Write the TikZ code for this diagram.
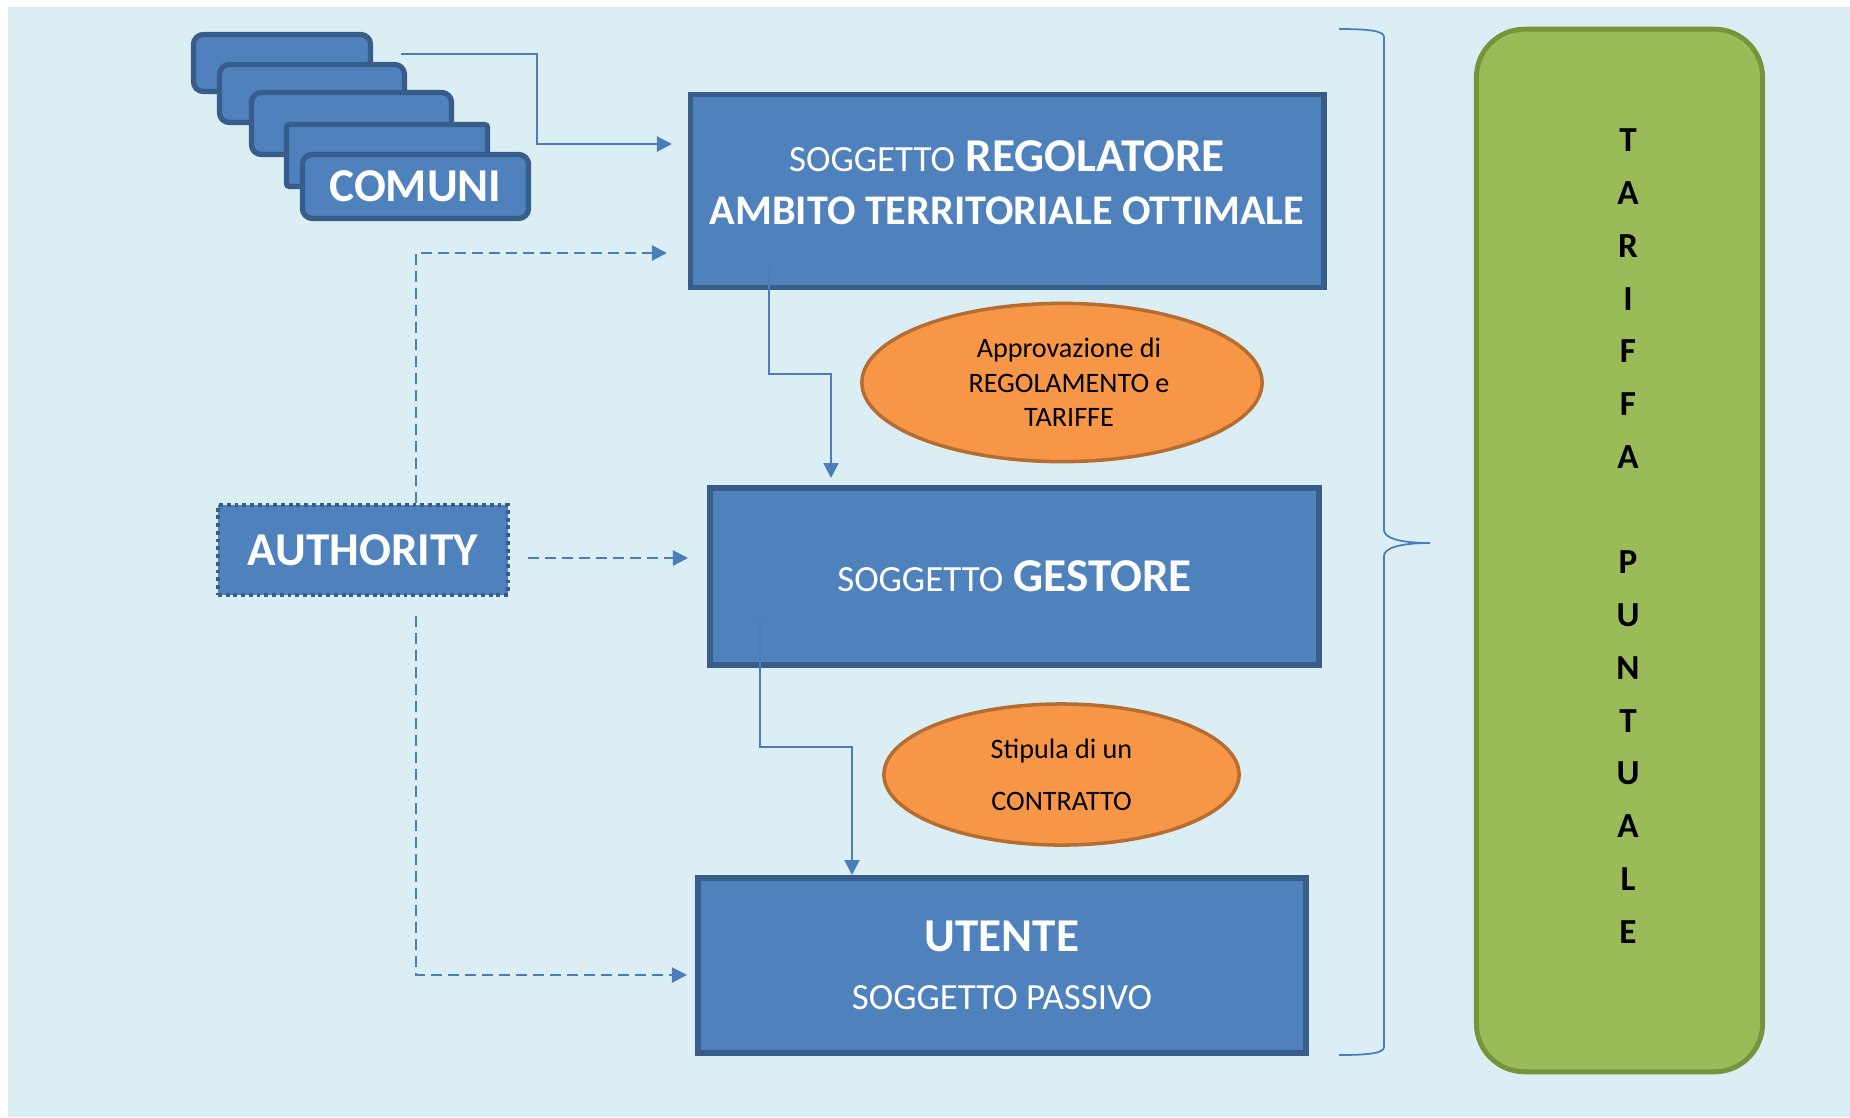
\documentclass[tikz,border=0pt]{standalone}
\usepackage{fontspec}
\setmainfont{Carlito}
\usetikzlibrary{arrows.meta,shapes.geometric}

\definecolor{bgblue}{HTML}{DBEEF4}
\definecolor{boxblue}{HTML}{4F81BD}
\definecolor{boxline}{HTML}{385D8A}
\definecolor{linkblue}{HTML}{4A7EBB}
\definecolor{ovalfill}{HTML}{F79646}
\definecolor{ovalline}{HTML}{B66D31}
\definecolor{tarfill}{HTML}{9BBB59}
\definecolor{tarline}{HTML}{77933C}

\newcommand{\sogg}[1]{{\fontsize{10.5}{12}\selectfont\mdseries #1}}

\begin{document}
\begin{tikzpicture}[x=0.01cm, y=-0.01cm,
    comune/.style={rectangle,rounded corners=1mm,draw=boxline,fill=boxblue,line width=1.5pt},
    entity/.style={rectangle,draw=boxline,fill=boxblue,line width=1.6pt,text=white,align=center,
      font=\fontsize{13.4}{15}\selectfont\bfseries},
    oval/.style={ellipse,draw=ovalline,fill=ovalfill,line width=1pt,align=center,
      font=\fontsize{8}{9.8}\selectfont},
    link/.style={draw=linkblue,line width=0.6pt,-{Triangle[length=1.5mm,width=1.5mm]}},
    dlink/.style={link,dash pattern=on 1.1mm off 0.6mm}
    ]

    \useasboundingbox (0,0) rectangle (1850,1117);
    \fill[bgblue] (8,7) rectangle (1850,1117);

    % comuni stack
    \node (c1) at (282,63) [comune,minimum width=1.77cm,minimum height=0.57cm] {};
    \node (c2) at (312,93.5) [comune,minimum width=1.85cm,minimum height=0.58cm] {};
    \node (c3) at (351.5,123.5) [comune,minimum width=2.0cm,minimum height=0.62cm] {};
    \node (c4) at (387,155.5) [comune,rounded corners=0.3mm,minimum width=2.01cm,minimum height=0.62cm] {};
    \node (comuni) at (415.5,186.5) [comune,text=white,font=\fontsize{13.4}{15}\selectfont\bfseries,
      minimum width=2.26cm,minimum height=0.64cm] {COMUNI};

    \node (reg) at (1007,191) [entity,text depth=5pt,minimum width=6.33cm,minimum height=1.93cm]
      {\sogg{SOGGETTO} REGOLATORE\\{\fontsize{12}{14}\selectfont AMBITO TERRITORIALE OTTIMALE}};
    \node (gest) at (1014.5,576.5) [entity,minimum width=6.09cm,minimum height=1.77cm]
      {\sogg{SOGGETTO} GESTORE};
    \node (utente) at (1002,965.5) [entity,minimum width=6.08cm,minimum height=1.75cm,
      font=\fontsize{13.4}{16.6}\selectfont\bfseries] {UTENTE\\\sogg{SOGGETTO PASSIVO}};
    \node (auth) at (363,550) [entity,line width=1.1pt,dash pattern=on 1.1pt off 1.1pt,
      minimum width=2.9cm,minimum height=0.9cm] {AUTHORITY};

    \node (approv) at (1062,382.5) [oval,minimum width=4.0cm,minimum height=1.55cm]
      {\hspace*{1.4mm}Approvazione di\\\hspace*{1.4mm}REGOLAMENTO e\\\hspace*{1.4mm}TARIFFE};
    \node (stipula) at (1061.5,774.5) [oval,minimum width=3.55cm,minimum height=1.41cm,
      font=\fontsize{8}{14.8}\selectfont] {Stipula di un\\CONTRATTO};

    \node (tariffa) at (1619.5,550.5) [rectangle,rounded corners=4.8mm,draw=tarline,fill=tarfill,
      line width=1.4pt,minimum width=2.86cm,minimum height=10.42cm] {};
    \node (tarletters) at (1628,536) [align=center,font=\fontsize{10}{15}\selectfont\bfseries]
      {T\\A\\R\\I\\F\\F\\A\\\mbox{}\\P\\U\\N\\T\\U\\A\\L\\E};

    % brace
    \draw[linkblue,line width=0.5pt] (1339,29) .. controls (1370,29) and (1384,31) .. (1384,37)
      -- (1384,530) .. controls (1384,538) and (1400,543) .. (1430,543)
      .. controls (1400,543) and (1384,548) .. (1384,556)
      -- (1384,1047) .. controls (1384,1053) and (1370,1055) .. (1339,1055);

    % connectors
    \coordinate (cstart) at (401,54);
    \coordinate (regin) at (672,144);
    \coordinate (regdash) at (667,253);
    \coordinate (gestdash) at (688,558);
    \coordinate (utdash) at (687,975);
    \coordinate (regout) at (769,268);
    \coordinate (gestin) at (831,478);
    \coordinate (gestout) at (760,618);
    \coordinate (utin) at (852,875);

    \draw[link] (cstart) -| (537,144) -- (regin);
    \draw[dlink] (auth.north -| 416,0) |- (regdash);
    \draw[dlink] ([shift={(18,8)}]auth.east) -- (gestdash);
    \draw[dlink] ([shift={(53,19)}]auth.south) |- (utdash);
    \draw[link] (regout) |- (831,374) -- (gestin);
    \draw[link] (gestout) |- (852,747) -- (utin);

  \end{tikzpicture}
\end{document}
